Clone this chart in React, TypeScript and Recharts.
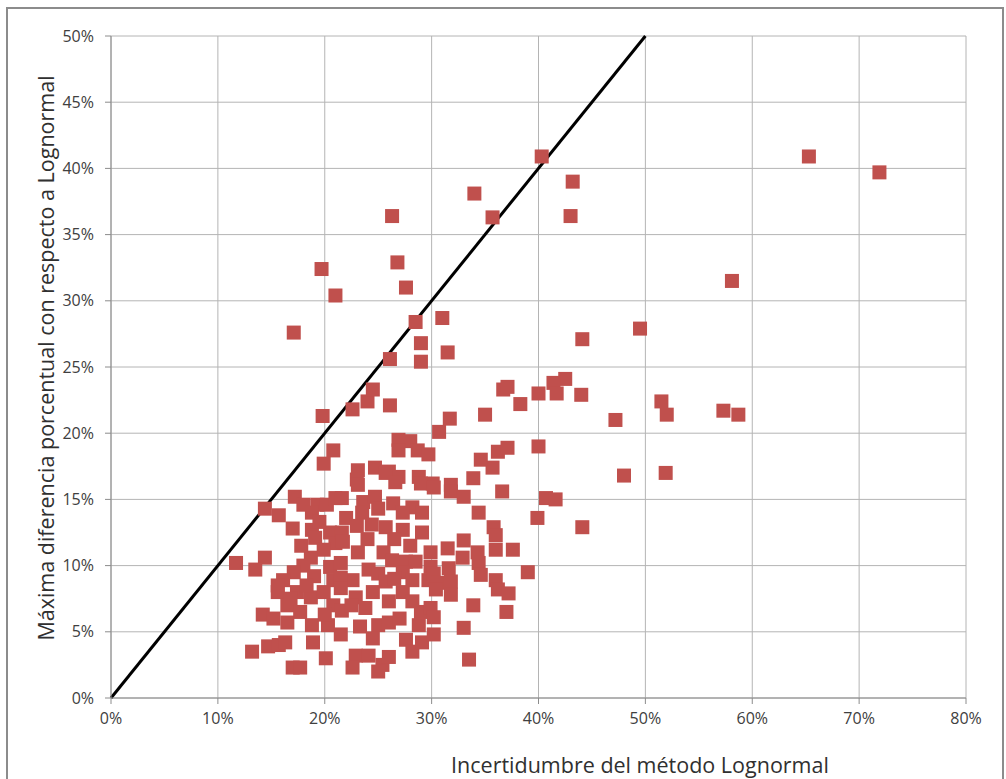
import React from 'react';
import { ScatterChart, Scatter, XAxis, YAxis, CartesianGrid, ReferenceLine } from 'recharts';

// Incertidumbre del método Lognormal (%)
const incertidumbre = [
  71.9, 65.3, 58.1, 49.5, 51.5, 52.0, 57.3, 58.7, 47.2, 48.0, 51.9, 42.5, 41.4, 41.7, 40.0, 44.0, 44.1, 44.1, 40.0, 39.9,
  40.7, 41.6, 39.0, 40.3, 43.2, 43.0, 35.7, 34.0, 26.3, 26.8, 27.6, 19.7, 21.0, 17.1, 28.5, 31.0, 31.5, 29.0, 29.0, 26.1,
  26.1, 19.8, 22.6, 24.0, 24.5, 20.8, 19.9, 30.7, 31.7, 35.0, 38.3, 36.7, 37.1, 36.2, 37.1, 35.7, 34.6, 26.9, 28.0, 26.9,
  28.7, 29.7, 26.0, 26.9, 28.8, 30.1, 31.8, 33.9, 23.1, 24.7, 23.0, 25.7,
  17.2, 14.4, 15.7, 17.0, 14.4, 13.5, 11.7, 18.0, 19.3, 20.2, 21.0, 18.8, 18.8, 19.1, 20.5, 21.0, 19.9, 18.7, 18.0, 17.1,
  16.1, 15.6, 20.5, 20.8,
  15.6, 14.2, 15.2, 16.5, 17.4, 16.5, 17.7, 18.7, 19.9, 20.8, 18.8, 20.3, 13.2, 14.7, 15.7, 16.3, 18.9, 20.1, 17.0, 17.7,
  23.1, 21.6, 23.6, 24.7, 26.6, 29.0, 26.4, 28.2, 29.1, 27.3, 23.5, 24.4, 25.7, 27.3, 29.1, 21.6, 21.7, 23.1, 25.5, 26.3,
  27.6, 28.5, 21.5, 24.1, 25.0, 27.3, 29.9, 29.9, 29.7, 28.2, 25.7, 22.6, 21.5,
  21.5, 22.9, 23.8, 21.6, 26.0, 27.3, 28.2, 29.0, 29.9, 23.3, 25.0, 26.0, 24.5, 21.5, 22.9, 22.6, 24.1, 25.4, 26.0, 27.6,
  28.2, 29.1, 30.2, 25.0,
  30.2, 31.8, 33.0, 36.6, 34.4, 35.8, 36.0, 36.0, 33.0, 31.5, 34.3, 37.6, 32.9, 31.6, 34.4, 34.6, 36.0, 30.2, 30.6, 31.8,
  30.4, 31.8, 36.2, 37.2, 33.9, 37.0, 30.2, 33.0, 33.5,
  19.5, 20.0, 19.0, 22.0, 24.0, 26.5, 28.0, 22.5, 24.5, 26.5, 27.0, 28.8, 23.0, 25.0, 17.8, 16.8, 18.3,
];

// Máxima diferencia porcentual con respecto a Lognormal (%)
const maxDiferencia = [
  39.7, 40.9, 31.5, 27.9, 22.4, 21.4, 21.7, 21.4, 21.0, 16.8, 17.0, 24.1, 23.8, 23.0, 23.0, 22.9, 27.1, 12.9, 19.0, 13.6,
  15.1, 15.0, 9.5, 40.9, 39.0, 36.4, 36.3, 38.1, 36.4, 32.9, 31.0, 32.4, 30.4, 27.6, 28.4, 28.7, 26.1, 26.8, 25.4, 25.6,
  22.1, 21.3, 21.8, 22.4, 23.3, 18.7, 17.7, 20.1, 21.1, 21.4, 22.2, 23.3, 23.5, 18.6, 18.9, 17.4, 18.0, 19.5, 19.4, 18.7,
  18.7, 18.4, 17.1, 16.7, 16.7, 16.2, 16.1, 16.6, 17.2, 17.4, 16.5, 17.0,
  15.2, 14.3, 13.8, 12.8, 10.6, 9.7, 10.2, 14.6, 14.6, 14.6, 15.1, 14.0, 12.7, 12.1, 12.5, 11.7, 11.2, 10.6, 10.0, 9.5,
  8.9, 8.5, 9.9, 8.9,
  8.0, 6.3, 6.0, 7.0, 8.0, 5.7, 6.5, 7.6, 8.0, 7.0, 5.5, 5.5, 3.5, 3.9, 4.0, 4.2, 4.2, 3.0, 2.3, 2.3,
  16.1, 15.1, 14.8, 15.2, 16.3, 16.2, 14.7, 14.4, 14.0, 14.0, 14.0, 13.1, 12.9, 12.7, 12.5, 12.5, 11.8, 11.0, 11.0, 10.4,
  10.3, 10.3, 10.2, 9.7, 9.4, 9.5, 11.0, 9.9, 8.9, 8.9, 8.8, 8.9, 9.1,
  8.3, 7.6, 6.8, 6.6, 7.3, 8.0, 7.3, 6.5, 6.8, 5.4, 5.5, 5.7, 4.5, 4.8, 3.2, 2.3, 3.2, 2.5, 3.1, 4.4,
  3.5, 4.2, 4.8, 2.0,
  15.9, 15.6, 15.2, 15.6, 14.0, 12.9, 12.3, 11.2, 11.9, 11.3, 11.0, 11.2, 10.6, 9.8, 10.2, 9.3, 8.9, 9.4, 8.7, 8.8,
  8.2, 7.8, 8.2, 7.9, 7.0, 6.5, 6.1, 5.3, 2.9,
  13.3, 6.3, 9.2, 13.6, 12.0, 12.0, 11.5, 7.0, 8.0, 9.0, 6.0, 5.5, 13.0, 14.3, 11.5, 7.5, 8.5,
];

const xTicks = [0, 10, 20, 30, 40, 50, 60, 70, 80];
const yTicks = [0, 5, 10, 15, 20, 25, 30, 35, 40, 45, 50];
const identityLine = [{ x: 0, y: 0 }, { x: 50, y: 50 }];

const data = incertidumbre.map((x, i) => ({ x, y: maxDiferencia[i] }));

const SquareMarker = (props: any) => {
  const { cx, cy } = props;
  if (cx == null || cy == null) return null;
  return <rect x={cx - 7} y={cy - 7} width={14} height={14} fill="#C0504D" />;
};

const font = '"Open Sans", sans-serif';

const App: React.FC = () => {
  return (
    <div style={{ position: 'absolute', left: 0, top: 0, width: 1006, height: 779, background: '#fff', overflow: 'hidden', fontFamily: font }}>
      <div style={{ position: 'absolute', left: 6, top: 7, width: 994, height: 790, border: '2px solid #8c8c8c' }} />
      <ScatterChart width={1006} height={779} margin={{ top: 36, right: 40, bottom: 0, left: 0 }}>
        <CartesianGrid stroke="#b4b4b4" strokeWidth={1} />
        <XAxis
          type="number"
          dataKey="x"
          domain={[0, 80]}
          ticks={xTicks}
          height={81}
          tickSize={6}
          tickMargin={9}
          stroke="#8c8c8c"
          tickFormatter={(v: number) => `${v}%`}
          tick={{ fill: '#404040', fontSize: 16, fontFamily: font }}
        />
        <YAxis
          type="number"
          dataKey="y"
          domain={[0, 50]}
          ticks={yTicks}
          width={111}
          tickSize={6}
          tickMargin={11}
          stroke="#8c8c8c"
          tickFormatter={(v: number) => `${v}%`}
          tick={{ fill: '#404040', fontSize: 16, fontFamily: font }}
        />
        <ReferenceLine segment={identityLine} stroke="#000" strokeWidth={3} ifOverflow="visible" />
        <Scatter data={data} shape={SquareMarker} isAnimationActive={false} />
      </ScatterChart>
      <div style={{ position: 'absolute', left: 290, width: 700, top: 750, textAlign: 'center', fontSize: 21.5, color: '#303030', lineHeight: '30px' }}>
        Incertidumbre del método Lognormal
      </div>
      <div style={{ position: 'absolute', left: 46, top: 358, width: 760, marginLeft: -380, marginTop: -15, textAlign: 'center', fontSize: 21.5, color: '#303030', lineHeight: '30px', transform: 'rotate(-90deg)' }}>
        Máxima diferencia porcentual con respecto a Lognormal
      </div>
    </div>
  );
};

export default App;
